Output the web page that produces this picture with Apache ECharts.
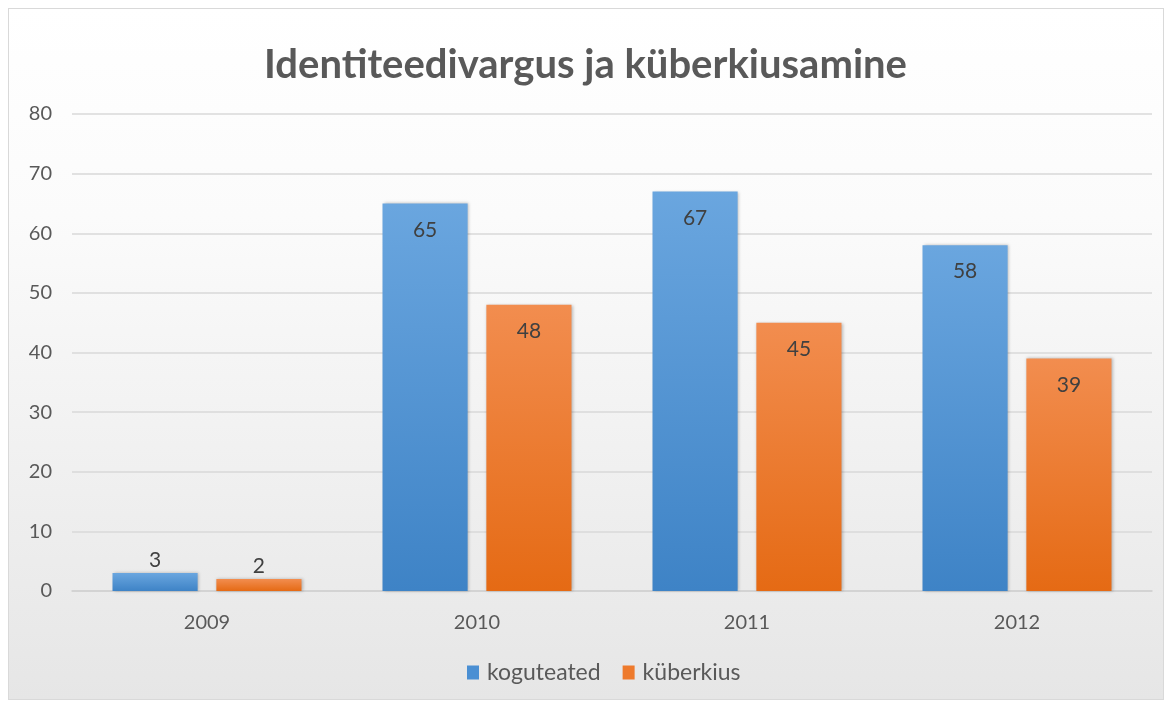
<!DOCTYPE html>
<html>
<head>
<meta charset="utf-8">
<script src="https://cdn.jsdelivr.net/npm/echarts@6/dist/echarts.min.js"></script>
<style>
  html, body { margin: 0; padding: 0; width: 1171px; height: 709px; background: #ffffff; overflow: hidden; }
  #bg { position: absolute; left: 8px; top: 8px; width: 1154px; height: 690px;
        border: 1px solid #d9d9d9;
        background: linear-gradient(to bottom, #ffffff 0%, #fbfbfb 30%, #ececec 80%, #e6e6e6 100%); }
  #chart { position: absolute; left: 0; top: 0; width: 1171px; height: 709px; }
</style>
</head>
<body>
<div id="bg"></div>
<div id="chart"></div>
<script>
const titleText = 'Identiteedivargus ja küberkiusamine';
const categories = ['2009', '2010', '2011', '2012'];
const seriesNames = ['koguteated', 'küberkius'];
const koguteated = [3, 65, 67, 58];
const kuberkius = [2, 48, 45, 39];
const yTicks = { min: 0, max: 80, interval: 10 };

function grad(top, bottom) {
  return new echarts.graphic.LinearGradient(0, 0, 0, 1, [
    { offset: 0, color: top }, { offset: 1, color: bottom }
  ]);
}
function items(values) {
  return values.map(v => ({
    value: v,
    label: v < 10 ? { position: 'top', distance: 2 } : { position: 'insideTop', distance: 16 }
  }));
}
const font = 'Lato, "Open Sans", sans-serif';
const chart = echarts.init(document.getElementById('chart'));
chart.setOption({
  backgroundColor: 'transparent',
  animation: false,
  title: {
    text: titleText, left: 'center', top: 40,
    textStyle: { fontFamily: font, fontSize: 40, fontWeight: 'bold', color: '#595959' }
  },
  legend: {
    data: [
      { name: seriesNames[0], itemStyle: { color: '#4a8fd3' } },
      { name: seriesNames[1], itemStyle: { color: '#ee7a2c' } }
    ],
    bottom: 20, left: 462,
    icon: 'rect', itemWidth: 12, itemHeight: 14, itemGap: 22,
    textStyle: { fontFamily: font, fontSize: 23, color: '#595959', padding: [0, 0, 0, 3] }
  },
  grid: { left: 72, right: 19, top: 114, bottom: 118, containLabel: false },
  xAxis: {
    type: 'category', data: categories,
    axisLine: { lineStyle: { color: '#d0d0d0', width: 1.5 } },
    axisTick: { show: false },
    axisLabel: { fontFamily: font, fontSize: 20, color: '#595959', margin: 22 }
  },
  yAxis: {
    type: 'value', min: yTicks.min, max: yTicks.max, interval: yTicks.interval,
    axisLine: { show: false }, axisTick: { show: false },
    axisLabel: { fontFamily: font, fontSize: 20, color: '#595959', margin: 20 },
    splitLine: { lineStyle: { color: '#d9d9d9', width: 1.5 } }
  },
  series: [
    {
      name: seriesNames[0], type: 'bar', data: items(koguteated),
      barCategoryGap: '30%', barGap: '22%',
      itemStyle: { color: grad('#6aa6df', '#3e83c6'), shadowBlur: 3, shadowColor: 'rgba(0,0,0,0.25)', shadowOffsetX: 1 },
      label: { show: true, fontFamily: font, fontSize: 21, color: '#404040' }
    },
    {
      name: seriesNames[1], type: 'bar', data: items(kuberkius),
      barCategoryGap: '30%', barGap: '22%',
      itemStyle: { color: grad('#f28d4f', '#e56a14'), shadowBlur: 3, shadowColor: 'rgba(0,0,0,0.25)', shadowOffsetX: 1 },
      label: { show: true, fontFamily: font, fontSize: 21, color: '#404040' }
    }
  ]
});
</script>
</body>
</html>
